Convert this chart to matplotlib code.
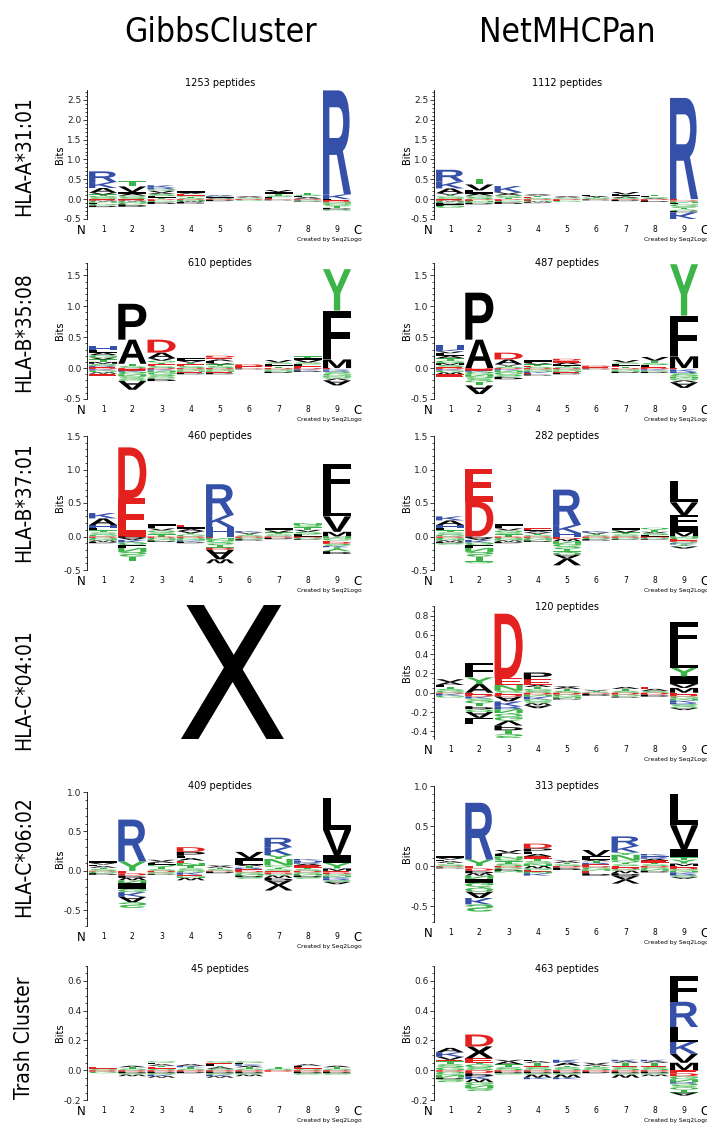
import matplotlib
matplotlib.use("Agg")
import matplotlib.pyplot as plt
from matplotlib.textpath import TextPath
from matplotlib.patches import PathPatch
from matplotlib.font_manager import FontProperties
from matplotlib.transforms import Affine2D
from matplotlib.ticker import MultipleLocator, FormatStrFormatter

plt.rcParams["axes.unicode_minus"] = False
plt.rcParams["font.family"] = "DejaVu Sans"

row_labels = ["HLA-A*31:01", "HLA-B*35:08", "HLA-B*37:01",
              "HLA-C*04:01", "HLA-C*06:02", "Trash Cluster"]
col_titles = ["GibbsCluster", "NetMHCPan"]
positions = [1, 2, 3, 4, 5, 6, 7, 8, 9]

gibbs_counts = [1253, 610, 460, None, 409, 45]
netmhc_counts = [1112, 487, 282, 120, 313, 463]

# stacks per position, from the zero line outward: letter + bits
a3101_gibbs_up = ["S.04 G.04 T.04 V.04 A.12 K.15 R.27", "S.05 Q.04 A.05 I.04 V.14 T.13",
                  "T.04 L.04 S.05 A.03 V.05 Q.04 R.04 K.06", "S.03 T.03 G.03 E.04 V.03 I.04",
                  "S.02 A.02 L.02 K.02 V.02", "S.02 T.02 A.02 V.02",
                  "E.02 L.03 S.04 T.04 I.05 V.05", "V.02 A.03 L.03 S.03 T.04", "K.12 R2.62"]
a3101_gibbs_dn = ["E.02 D.02 W.02 N.03 L.03 G.04 P.04", "E.02 D.02 W.02 N.03 G.04 P.06",
                  "D.02 E.02 G.03 P.05", "D.02 N.03 W.02 P.04", "D.02 P.03", "D.02 G.02",
                  "D.01 P.02", "D.02 G.02 P.02", "L.02 E.03 D.03 N.03 G.04 S.03 T.04 P.04 Q.03"]
a3101_net_up = ["S.04 G.03 T.04 V.04 A.12 K.17 R.30", "S.05 Q.04 A.05 I.04 L.04 V.15 T.15",
                "T.03 S.04 Q.03 A.03 V.04 K.16", "S.03 E.03 T.03 A.02 V.02", "S.02 T.02 A.02 V.02",
                "S.03 T.02 A.03 L.02", "S.03 A.03 T.03 L.03 V.06", "A.02 S.03 L.02 T.03", "R2.55"]
a3101_net_dn = ["E.02 D.02 W.02 N.03 P.04 L.03 G.06", "D.02 E.02 N.03 G.02 P.04",
                "D.02 E.02 G.03 P.05", "D.02 E.02 N.02 W.02 P.02", "D.02 E.02 G.03", "D.01 P.02",
                "D.02 P.03", "D.02 E.02 P.03", "E.03 D.03 N.04 L.03 G.05 S.04 T.04 Q.04 P.03 K.17"]

b3508_gibbs_up = ["E.02 R.02 S.03 M.03 T.04 V.03 G.04 A.04 L.04 H.06", "S.03 T.04 A.39 P.58",
                  "S.03 E.03 T.03 G.03 V.04 A.09 D.21", "S.03 E.03 T.03 V.03 L.02 I.03",
                  "S.03 T.03 V.02 L.03 A.03 E.03 D.03", "E.03 D.03", "T.02 E.02 L.03 S.02 V.04",
                  "E.03 L.03 S.03 V.04 I.03 T.03", "M.14 L.07 F.72 Y.67"]
b3508_gibbs_dn = ["D.02 K.02 G.03 W.02 E.03", "D.02 E.02 K.02 G.04 N.03 S.04 Q.04 A.14",
                  "D.02 K.02 N.03 G.04 S.03 Q.03 P.04", "D.02 G.02 N.02 E.02 P.02",
                  "D.02 G.02 N.02 E.02 P.02", "D.01 P.01", "D.02 G.02 N.02 P.02", "D.02 K.02 P.02",
                  "E.02 K.02 R.02 S.03 G.03 N.02 Q.03 V.03 A.08"]
b3508_net_up = ["E.02 S.03 M.03 G.04 T.04 A.04 L.04 V.03 K.03 H.08", "A.46 P.76",
                "S.02 T.02 V.02 A.08 D.11", "S.02 E.02 T.02 V.02 L.02 I.03",
                "S.02 T.02 L.02 A.03 E.03 D.03", "E.02 D.02", "T.02 E.02 L.03 S.02 V.04",
                "E.02 L.03 S.03 T.04 V.06", "M.19 F.66 Y.83"]
b3508_net_dn = ["D.02 K.02 G.03 W.03 E.04", "D.02 E.02 K.02 G.04 N.04 S.05 Q.04 T.05 A.14",
                "D.02 K.02 N.03 G.04 S.03 P.04", "D.02 G.02 N.02 K.02 E.02 P.02",
                "D.02 G.02 N.02 E.02 P.02", "D.01 P.01", "D.02 G.02 N.02 P.02",
                "D.02 K.02 G.02 P.02", "E.02 K.03 R.03 S.03 G.03 N.03 Q.03 V.03 A.09"]

b3701_gibbs_up = ["G.03 S.03 T.03 L.03 H.05 A.10 K.08", "E.57 D.76", "T.03 S.03 Q.03 V.03 L.03 I.03",
                  "G.03 T.02 V.03 A.03 I.03 E.03", "H.14 K.18 R.46", "S.02 T.02 V.02 K.02",
                  "S.03 T.03 V.03 I.03", "L.03 S.04 V.03 T.04 Q.03 N.03", "M.07 V.23 L.31 F.47"]
b3701_gibbs_dn = ["D.02 G.02 N.02 W.02 P.02", "P.02 A.03 K.04 G.04 L.04 N.06 S.07 T.07",
                  "D.02 G.02 N.02 P.02", "D.02 G.02 N.02 K.02 P.02",
                  "E.02 N.03 G.04 S.04 T.04 D.03 A.14 W.06", "D.02 G.02 P.02", "D.02 P.02",
                  "D.02 G.02 P.01", "N.03 G.03 E.02 D.03 S.03 K.02 Y.06 P.04"]
b3701_net_up = ["G.03 S.03 T.03 L.03 H.05 A.07 K.06", "D.52 E.49", "T.03 S.03 Q.03 V.03 L.03 I.03",
                "G.02 T.02 V.02 A.02 I.02 E.02", "H.05 K.12 R.53", "S.02 T.02 V.02 K.02",
                "S.03 T.03 V.03 I.03", "L.02 S.03 V.02 T.03 Q.03", "M.07 I.08 F.17 V.19 L.32"]
b3701_net_dn = ["D.02 G.02 N.02 W.02 P.02 S.02", "P.02 A.03 K.04 G.04 L.04 N.06 S.07 T.08 Q.02",
                "D.02 G.02 N.02 W.02 P.02", "D.02 G.02 N.02 P.02",
                "E.02 D.02 W.03 N.04 G.04 S.04 T.04 Q.04 A.06 V.10", "D.02 G.02 P.02",
                "D.02 G.02 P.01", "D.02 G.02 P.01", "N.02 G.02 E.02 D.02 S.02 K.02 Y.03 A.03"]

c0401_net_up = ["G.02 S.02 T.02 L.02 A.03 V.03", "A.09 Y.07 F.15", "S.02 N.06 E.07 D.67",
                "S.02 G.02 T.02 A.02 E.06 P.07", "S.02 T.02 A.02 V.01", "S.01 T.01 V.01",
                "S.02 T.02 A.02", "S.02 A.02 E.02", "M.05 V.04 I.08 Y.09 L.19 F.28"]
c0401_net_dn = ["D.01 K.02 G.02", "E.02 D.02 K.02 S.02 G.03 T.03 P.03 Q.03 A.06 L.06",
                "E.02 D.02 A.05 K.05 R.03 N.04 Q.04 G.04 V.05 P.05 T.04 S.04",
                "D.02 N.02 K.03 G.02 S.02 W.02 A.03", "D.02 G.02 N.02 P.01", "D.01 P.02",
                "D.02 G.02 P.01", "D.02 P.02", "E.02 D.02 G.02 N.02 K.02 R.02 S.02 Q.02 A.02"]

c0602_gibbs_up = ["S.02 T.02 A.02 L.02 V.02 I.02", "Y.12 R.53", "S.02 T.03 Q.03 L.02 A.02 V.02",
                  "S.03 T.04 N.03 E.03 A.03 L.03 P.05 D.06", "S.02 T.02 A.02 V.01",
                  "E.02 R.02 T.02 A.02 L.02 F.03 I.03 V.08", "S.02 T.02 Q.03 N.08 Y.05 K.10 R.12",
                  "S.02 T.02 E.03 A.02 R.02 H.02 K.02", "M.03 Y.07 I.10 V.32 L.40"]
c0602_gibbs_dn = ["D.01 G.02 P.02", "E.03 D.03 P.03 W.03 N.04 I.07 G.04 K.06 A.07 S.07",
                  "D.02 G.02 P.01", "G.02 K.03 E.02 N.02 W.03", "D.01 P.02",
                  "D.02 G.02 N.02 P.02 S.02", "E.02 D.02 G.02 W.03 P.03 A.06 V.07",
                  "D.02 G.02 N.02 P.02 S.02", "E.02 D.02 G.02 N.02 K.02 R.02 S.02 A.03"]
c0602_net_up = ["S.02 T.02 A.02 L.02 V.02 I.02", "Y.08 R.71", "S.03 T.03 Q.03 N.03 L.03 A.02 V.03",
                "N.03 S.03 T.03 E.03 A.03 L.03 P.04 D.06", "S.02 T.02 A.02 V.01",
                "E.02 R.02 T.02 A.02 L.02 F.02 V.08", "S.02 T.02 Q.03 N.07 Y.03 K.08 R.12",
                "S.02 T.02 E.03 A.02 R.02 H.02 K.02", "M.03 Y.05 T.03 I.10 V.30 L.39"]
c0602_net_dn = ["D.01 G.01 P.01", "E.03 D.03 P.03 W.03 N.04 I.05 G.05 Q.06 A.08 K.08 S.09",
                "D.02 G.02 P.02 N.02", "W.03 G.02 E.02 N.02 K.03", "D.02 P.03",
                "D.02 G.02 N.02 E.03 P.03", "E.02 D.02 G.02 W.03 P.03 A.05 V.05",
                "D.02 G.02 N.02 P.02", "E.02 D.02 G.02 N.02 K.02 R.02 S.02 A.02"]

trash_gibbs_up = ["S.01 E.01", "S.01 T.01 A.01", "S.01 E.01 T.01 A.01 L.01 Q.01", "S.01 T.01 K.01 A.01",
                  "S.01 A.01 T.01 L.01 E.01 Q.01", "S.01 T.01 A.01 K.01 L.01 G.01", "S.01 T.01",
                  "S.01 E.01 L.01 A.01", "S.01 T.01 A.01"]
trash_gibbs_dn = ["D.01 G.01", "D.01 P.01 G.01 W.01", "D.01 P.01 G.01 K.01 W.01", "D.01 P.01",
                  "D.01 P.01 G.01 K.01 W.01", "D.01 P.01 G.01 W.01", "D.01", "D.01 P.01 G.01",
                  "D.01 P.01 G.01"]
trash_net_up = ["G.02 S.02 T.02 E.01 V.02 K.03 A.03", "S.02 G.02 T.01 E.03 X.08 D.08",
                "S.02 T.02 A.02 V.01", "S.02 E.01 T.02 A.01 L.01", "S.02 T.01 A.02 K.02",
                "S.02 T.01 A.01 V.01", "S.02 E.01 T.02 A.01 K.01", "S.02 E.01 T.02 A.01 K.01",
                "M.05 V.06 K.08 L.10 R.17 F.17"]
trash_net_dn = ["D.01 G.02 N.02 P.01 S.02", "D.02 P.02 K.02 W.02 G.02 N.02 S.02", "D.01 P.01 G.01",
                "D.01 P.01 G.01 W.02 K.01", "D.01 P.01 G.01 W.02 K.01", "D.01 P.01",
                "D.01 P.01 G.01 W.02", "D.01 P.01 G.01 W.01",
                "E.02 D.02 G.02 N.02 R.01 S.02 Q.02 T.02 A.02"]

gibbs_logos = [(a3101_gibbs_up, a3101_gibbs_dn), (b3508_gibbs_up, b3508_gibbs_dn),
               (b3701_gibbs_up, b3701_gibbs_dn), None,
               (c0602_gibbs_up, c0602_gibbs_dn), (trash_gibbs_up, trash_gibbs_dn)]
netmhc_logos = [(a3101_net_up, a3101_net_dn), (b3508_net_up, b3508_net_dn),
                (b3701_net_up, b3701_net_dn), (c0401_net_up, c0401_net_dn),
                (c0602_net_up, c0602_net_dn), (trash_net_up, trash_net_dn)]

# y range and tick steps of each row
row_ylims = [(-0.5, 2.75), (-0.5, 1.7), (-0.5, 1.5), (-0.48, 0.9), (-0.7, 1.0), (-0.2, 0.7)]
row_major = [0.5, 0.5, 0.5, 0.2, 0.5, 0.2]
row_minor = [0.1, 0.1, 0.1, 0.05, 0.1, 0.05]

W, H = 707, 1124
# pixel boxes: (top, bottom) of each row's axes, per column
axes_px = [[(90, 219), (263, 399), (436, 570), (606, 739), (792, 926), (966, 1100)],
           [(90, 219), (263, 399), (436, 570), (606, 739), (786, 922), (966, 1100)]]
col_left_px = [87, 434]
title_y_px = [[83, 263, 436, None, 786, 969], [83, 263, 436, 607, 786, 969]]
label_y_px = [156, 332, 502, 690, 857, 1038]

COLORS = {}
for aa in "DE":
    COLORS[aa] = "#e3211f"
for aa in "HKR":
    COLORS[aa] = "#3550a8"
for aa in "GNQSTY":
    COLORS[aa] = "#3db449"

LOGO_FONT = FontProperties(family="Liberation Sans", weight="bold")
glyph_cache = {}


def draw_letter(ax, ch, x, y0, h, flip=False, width=0.96):
    if ch not in glyph_cache:
        p = TextPath((0, 0), ch, size=1, prop=LOGO_FONT)
        glyph_cache[ch] = (p, p.get_extents())
    p, bb = glyph_cache[ch]
    sy = h / bb.height
    t = (Affine2D().translate(-bb.x0, -bb.y0)
         .scale(width / bb.width, -sy if flip else sy)
         .translate(x - width / 2, y0))
    ax.add_patch(PathPatch(t.transform_path(p), fc=COLORS.get(ch, "black"),
                           ec="none", lw=0))


def parse(s):
    return [(tok[0], float(tok[1:])) for tok in s.split()]


def draw_logo(ax, ups, dns):
    for x, up, dn in zip(positions, ups, dns):
        y = 0.0
        for ch, h in parse(up):
            draw_letter(ax, ch, x, y, h)
            y += h
        y = 0.0
        for ch, h in parse(dn):
            draw_letter(ax, ch, x, y, h, flip=True)
            y -= h


fig = plt.figure(figsize=(W / 100, H / 100), dpi=100)

for col, (logos, counts) in enumerate([(gibbs_logos, gibbs_counts), (netmhc_logos, netmhc_counts)]):
    for row in range(6):
        if logos[row] is None:
            continue
        top, bot = axes_px[col][row]
        left = col_left_px[col]
        ax = fig.add_axes([left / W, 1 - bot / H, 267.6 / W, (bot - top) / H])
        ax.set_xlim(0.45, 9.6)
        ax.set_ylim(*row_ylims[row])
        draw_logo(ax, *logos[row])
        for s in ["top", "right", "bottom"]:
            ax.spines[s].set_visible(False)
        ax.spines["left"].set_linewidth(0.6)
        ax.yaxis.set_major_locator(MultipleLocator(row_major[row]))
        ax.yaxis.set_minor_locator(MultipleLocator(row_minor[row]))
        ax.yaxis.set_major_formatter(FormatStrFormatter("%.1f"))
        ax.tick_params(axis="y", which="major", length=3, width=0.6, labelsize=6.5, pad=1, colors="#222222")
        ax.tick_params(axis="y", which="minor", length=1.6, width=0.5)
        ax.set_xticks(positions)
        ax.tick_params(axis="x", length=0, labelsize=5.5, pad=4)
        ax.set_ylabel("Bits", fontsize=7, labelpad=-1)
        ax.annotate("N", xy=(0.24, 0), xycoords=("data", "axes fraction"), xytext=(0, -3.5),
                    textcoords="offset points", ha="center", va="top", fontsize=8.5)
        ax.annotate("C", xy=(9.7, 0), xycoords=("data", "axes fraction"), xytext=(0, -3.5),
                    textcoords="offset points", ha="center", va="top", fontsize=8.5)
        ax.annotate("Created by Seq2Logo", xy=(9.85, 0), xycoords=("data", "axes fraction"),
                    xytext=(0, -13), textcoords="offset points", ha="right", va="top", fontsize=4.3)
        cx = (left + 0.55 * 29.25 + 4 * 29.25) / W
        fig.text(cx, 1 - title_y_px[col][row] / H, "%d peptides" % counts[row],
                 ha="center", va="center", fontsize=7)

# no GibbsCluster logo for this allele
fig.text(232 / W, 1 - 688 / H, "X", ha="center", va="center", fontsize=132,
         fontstretch="condensed")

for col, title in enumerate(col_titles):
    cx = (col_left_px[col] + 0.55 * 29.25 + 4 * 29.25) / W
    fig.text(cx, 1 - 33 / H, title, ha="center", va="center", fontsize=24,
             fontstretch="condensed")

for row, lab in enumerate(row_labels):
    fig.text(24 / W, 1 - label_y_px[row] / H, lab, rotation=90, ha="center", va="center",
             fontsize=15, fontstretch="condensed")

fig.savefig("out.png", dpi=100, facecolor="white")
